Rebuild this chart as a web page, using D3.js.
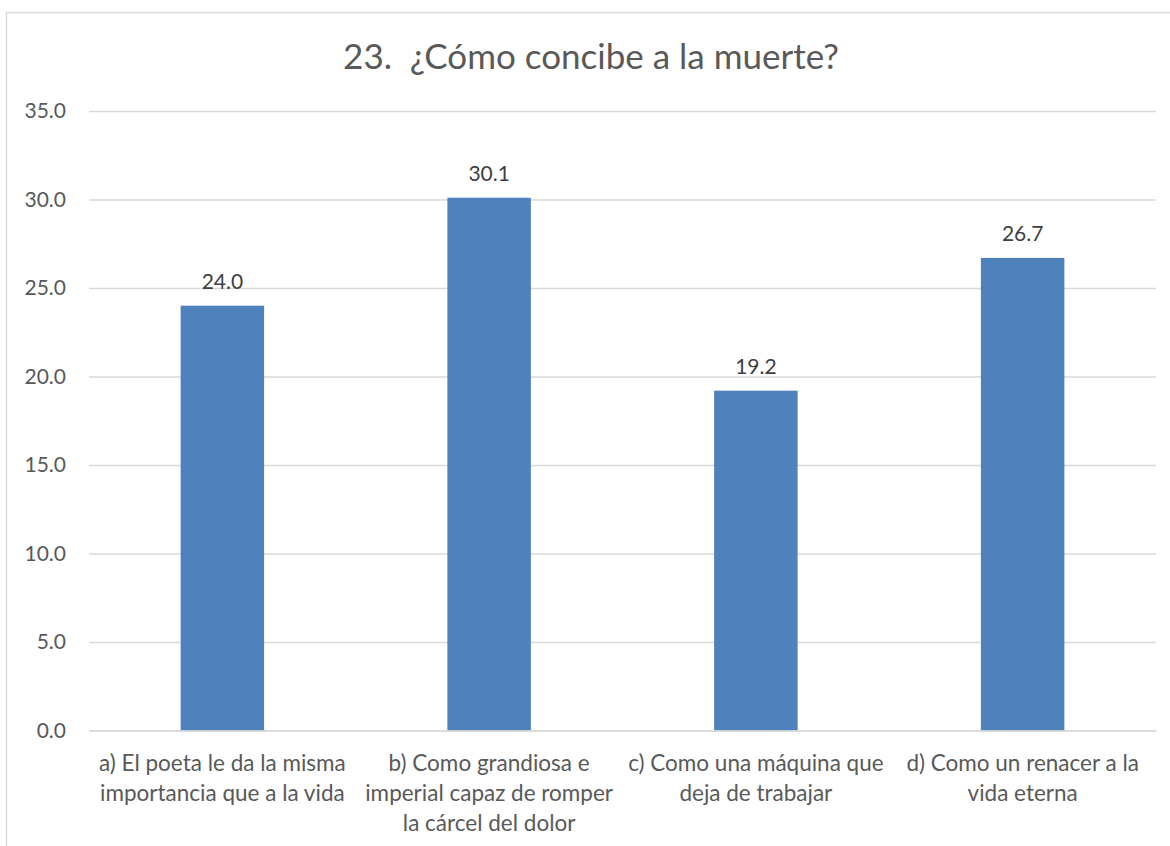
<!DOCTYPE html>
<html>
<head>
<meta charset="utf-8">
<script src="https://cdn.jsdelivr.net/npm/d3@7"></script>
<style>
  body { margin: 0; background: #fff; }
  text { font-family: Lato, "Open Sans", sans-serif; }
</style>
</head>
<body>
<div id="chart"></div>
<script>
var title = '23.\u00a0 ¿Cómo concibe a la muerte?';
var categories = [
  'a) El poeta le da la misma\nimportancia que a la vida',
  'b) Como grandiosa e\nimperial capaz de romper\nla cárcel del dolor',
  'c) Como una máquina que\ndeja de trabajar',
  'd) Como un renacer a la\nvida eterna'
];
var values = [24.0, 30.1, 19.2, 26.7];
var yTicks = [0, 5, 10, 15, 20, 25, 30, 35];

var width = 1170, height = 846;
var plotLeft = 89, plotRight = 1156, plotTop = 111, plotBottom = 730.5;

var svg = d3.select('#chart').append('svg')
  .attr('width', width).attr('height', height);

// chart frame (runs off the right and bottom edge like the screenshot)
svg.append('rect')
  .attr('x', 6.5).attr('y', 12.5)
  .attr('width', 1300).attr('height', 1000)
  .attr('fill', 'none').attr('stroke', '#d9d9d9').attr('stroke-width', 1.5);

var x = d3.scaleBand()
  .domain(categories)
  .range([plotLeft, plotRight])
  .paddingInner(0.687)
  .paddingOuter(0.3435);

var y = d3.scaleLinear().domain([0, 35]).range([plotBottom, plotTop]);

// gridlines + tick labels
var yAxis = d3.axisLeft(y)
  .tickValues(yTicks)
  .tickSize(-(plotRight - plotLeft))
  .tickPadding(23)
  .tickFormat(d3.format('.1f'));

var gy = svg.append('g')
  .attr('transform', 'translate(' + plotLeft + ',0)')
  .call(yAxis);
gy.select('.domain').remove();
gy.selectAll('.tick line').attr('stroke', '#d9d9d9').attr('stroke-width', 1.5);
gy.selectAll('.tick text')
  .attr('fill', '#595959')
  .style('font-size', '21px')
  .style('font-family', 'Lato, sans-serif');

// bars
svg.selectAll('rect.bar')
  .data(values)
  .enter()
  .append('rect')
  .attr('class', 'bar')
  .attr('x', function (d, i) { return x(categories[i]); })
  .attr('width', x.bandwidth())
  .attr('y', function (d) { return y(d); })
  .attr('height', function (d) { return y(0) - y(d); })
  .attr('fill', '#4f81bd');

// value labels
svg.selectAll('text.val')
  .data(values)
  .enter()
  .append('text')
  .attr('class', 'val')
  .attr('x', function (d, i) { return x(categories[i]) + x.bandwidth() / 2; })
  .attr('y', function (d) { return y(d) - 17; })
  .attr('text-anchor', 'middle')
  .attr('fill', '#404040')
  .style('font-size', '21px')
  .text(function (d) { return d.toFixed(1); });

// category labels
var xAxis = d3.axisBottom(x).tickSize(0).tickFormat('');
var gx = svg.append('g')
  .attr('transform', 'translate(0,' + plotBottom + ')')
  .call(xAxis);
gx.select('.domain').attr('stroke', '#d9d9d9').attr('stroke-width', 1.5);

gx.selectAll('.tick').each(function (d) {
  var t = d3.select(this).append('text')
    .attr('text-anchor', 'middle')
    .attr('fill', '#595959')
    .style('font-size', '22.5px');
  d.split('\n').forEach(function (line, i) {
    t.append('tspan')
      .attr('x', 0)
      .attr('y', 40 + i * 30)
      .text(line);
  });
});

// title
svg.append('text')
  .attr('x', 591)
  .attr('y', 69)
  .attr('text-anchor', 'middle')
  .attr('fill', '#595959')
  .style('font-size', '35px')
  .text(title);
</script>
</body>
</html>
